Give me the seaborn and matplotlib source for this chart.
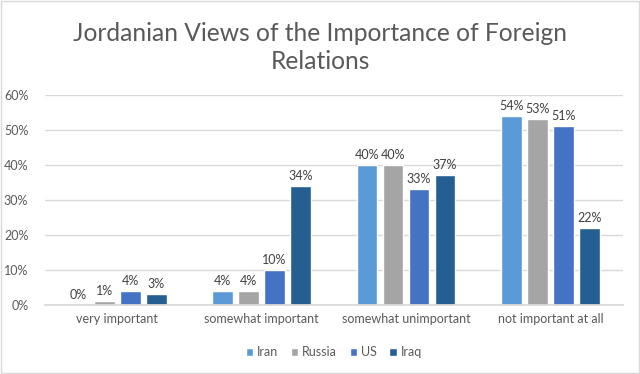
import matplotlib
matplotlib.use("Agg")
import matplotlib.pyplot as plt
import seaborn as sns
import pandas as pd
from matplotlib.patches import Rectangle

categories = ["very important", "somewhat important", "somewhat unimportant", "not important at all"]
series = ["Iran", "Russia", "US", "Iraq"]
iran = [0, 4, 40, 54]
russia = [1, 4, 40, 53]
us = [4, 10, 33, 51]
iraq = [3, 34, 37, 22]
yticks = [0, 10, 20, 30, 40, 50, 60]
colors = ["#5B9BD5", "#A5A5A5", "#4472C4", "#255E91"]

rows = []
for s, vals in zip(series, [iran, russia, us, iraq]):
    for c, v in zip(categories, vals):
        rows.append({"category": c, "series": s, "value": v})
df = pd.DataFrame(rows)

sns.set_theme(style="white")
plt.rcParams["font.family"] = ["Lato", "DejaVu Sans"]

fig = plt.figure(figsize=(6.4, 3.74), dpi=100)
ax = fig.add_axes([0.0703, 0.1845, 0.9027, 0.5615])

sns.barplot(data=df, x="category", y="value", hue="series", order=categories,
            hue_order=series, palette=colors, width=0.72, gap=0.2, ax=ax,
            saturation=1, errorbar=None, legend=True)

for cont in ax.containers:
    labels = [f"{int(round(b.get_height()))}%" for b in cont]
    ax.bar_label(cont, labels=labels, padding=3, fontsize=9, color="#404040")

ax.set_ylim(0, 60)
ax.set_xlim(-0.5, 3.5)
ax.set_yticks(yticks)
ax.set_yticklabels([f"{t}%" for t in yticks], fontsize=9, color="#595959")
ax.tick_params(axis="x", labelsize=9, labelcolor="#595959", length=0, pad=6)
ax.tick_params(axis="y", length=0, pad=12)
ax.set_xlabel("")
ax.set_ylabel("")
ax.yaxis.grid(True, color="#D9D9D9", linewidth=1)
ax.set_axisbelow(True)
for sp in ["top", "right", "left"]:
    ax.spines[sp].set_visible(False)
ax.spines["bottom"].set_color("#D9D9D9")

leg = ax.legend(loc="center", bbox_to_anchor=(0.5, -0.225), ncol=4, frameon=False,
                fontsize=9, handlelength=0.6, handleheight=0.6, handletextpad=0.3,
                columnspacing=1.0)
for t in leg.get_texts():
    t.set_color("#595959")

fig.text(0.5, 0.872, "Jordanian Views of the Importance of Foreign\nRelations",
         ha="center", va="center", fontsize=17.7, color="#595959",
         fontweight="normal", linespacing=1.25)

fig.patches.append(Rectangle((0.001, 0.002), 0.997, 0.995, transform=fig.transFigure,
                             fill=False, edgecolor="#D9D9D9", linewidth=1))

fig.savefig("out.png", dpi=100)
